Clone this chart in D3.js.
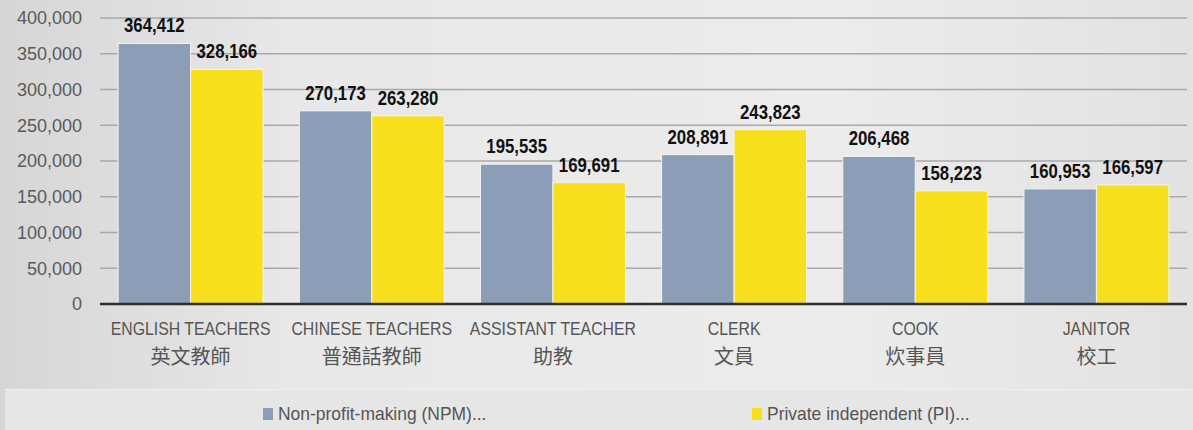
<!DOCTYPE html>
<html>
<head>
<meta charset="utf-8">
<script src="https://cdn.jsdelivr.net/npm/d3@7"></script>
<style>
  body { margin: 0; background: #e2e2e2; }
  svg { display: block; }
</style>
</head>
<body>
<div id="chart"></div>
<script>
// Data
// ---------------------------------------------------------
const categories = ["ENGLISH TEACHERS", "CHINESE TEACHERS", "ASSISTANT TEACHER", "CLERK", "COOK", "JANITOR"];
const categoriesZh = ["英文教師", "普通話教師", "助教", "文員", "炊事員", "校工"];
const npmValues = [364412, 270173, 195535, 208891, 206468, 160953];
const piValues = [328166, 263280, 169691, 243823, 158223, 166597];
const seriesNames = ["Non-profit-making (NPM)...", "Private independent (PI)..."];
const yTicks = [0, 50000, 100000, 150000, 200000, 250000, 300000, 350000, 400000];

let width = 1193,
    height = 430,
    plotLeft = 100,
    plotRight = 1187,
    plotTop = 18,
    plotBottom = 304;

const colors = ["#8b9db7", "#f7df1e"];
const sansFont = "'Liberation Sans', Arial, sans-serif";

let svg = d3.select("#chart").append("svg")
    .attr("width", width)
    .attr("height", height);

// Background
// ---------------------------------------------------------
let defs = svg.append("defs");
let grad = defs.append("linearGradient").attr("id", "bg").attr("x1", 0).attr("x2", 1);
grad.append("stop").attr("offset", "0%").attr("stop-color", "#d6d6d6");
grad.append("stop").attr("offset", "25%").attr("stop-color", "#e8e8e8");
grad.append("stop").attr("offset", "70%").attr("stop-color", "#ececec");
grad.append("stop").attr("offset", "100%").attr("stop-color", "#e2e2e2");

svg.append("rect")
    .attr("width", width).attr("height", height)
    .attr("fill", "url(#bg)");

svg.append("rect")
    .attr("x", 5).attr("y", 389)
    .attr("width", width - 5).attr("height", height - 389)
    .attr("fill", "#e6e6e6");
svg.append("line")
    .attr("x1", 5).attr("x2", width).attr("y1", 389.5).attr("y2", 389.5)
    .attr("stroke", "#f0f0f0");

// Scales
// ---------------------------------------------------------
let x = d3.scaleBand()
    .domain(categories)
    .range([plotLeft, plotRight])
    .paddingInner(0.2)
    .paddingOuter(0.1);

let xSeries = d3.scaleBand()
    .domain([0, 1])
    .range([0, x.bandwidth()]);

let y = d3.scaleLinear()
    .domain([0, 400000])
    .range([plotBottom, plotTop]);

// Grid and y axis
// ---------------------------------------------------------
svg.append("g").selectAll("line")
    .data(yTicks.filter(d => d > 0))
    .join("line")
        .attr("x1", plotLeft)
        .attr("x2", plotRight)
        .attr("y1", d => y(d))
        .attr("y2", d => y(d))
        .attr("stroke", "#a9a9a9")
        .attr("stroke-width", 1.5);

let yAxis = svg.append("g")
    .attr("transform", `translate(${plotLeft - 18},0)`)
    .call(d3.axisLeft(y).tickValues(yTicks).tickSize(0).tickPadding(0).tickFormat(d3.format(",")));
yAxis.select(".domain").remove();
yAxis.selectAll("text")
    .attr("fill", "#5a5a5a")
    .style("font-family", sansFont)
    .style("font-size", "18px");

// Bars
// ---------------------------------------------------------
let rows = categories.map((c, i) => ({ cat: c, vals: [npmValues[i], piValues[i]] }));

let groups = svg.append("g").selectAll("g")
    .data(rows)
    .join("g")
        .attr("transform", d => `translate(${x(d.cat)},0)`);

groups.selectAll("rect")
    .data(d => d.vals.map((v, k) => ({ v, k })))
    .join("rect")
        .attr("x", d => xSeries(d.k))
        .attr("y", d => y(d.v))
        .attr("width", xSeries.bandwidth())
        .attr("height", d => y(0) - y(d.v))
        .attr("fill", d => colors[d.k])
        .attr("stroke", "#f4f4f4")
        .attr("stroke-width", 1);

// value labels, squeezed horizontally to look like a narrow bold face
groups.selectAll("text.val")
    .data(d => d.vals.map((v, k) => ({ v, k })))
    .join("text")
        .attr("class", "val")
        .attr("transform", d => `translate(${xSeries(d.k) + xSeries.bandwidth() / 2},${y(d.v) - 11}) scale(0.84,1)`)
        .attr("text-anchor", "middle")
        .attr("fill", "#111")
        .style("font-family", sansFont)
        .style("font-weight", "bold")
        .style("font-size", "20px")
        .text(d => d3.format(",")(d.v));

// Baseline
svg.append("line")
    .attr("x1", plotLeft).attr("x2", plotRight)
    .attr("y1", y(0)).attr("y2", y(0))
    .attr("stroke", "#2e2e2e")
    .attr("stroke-width", 2.5);

// Category labels
// ---------------------------------------------------------
let labels = svg.append("g").selectAll("g")
    .data(categories)
    .join("g")
        .attr("transform", d => `translate(${x(d) + x.bandwidth() / 2},0)`);

labels.append("text")
    .attr("transform", "translate(0,335) scale(0.88,1)")
    .attr("text-anchor", "middle")
    .attr("fill", "#555")
    .style("font-family", sansFont)
    .style("font-size", "18px")
    .text(d => d);

labels.append("text")
    .attr("y", 364)
    .attr("text-anchor", "middle")
    .attr("fill", "#555")
    .style("font-family", "'Noto Sans CJK TC', sans-serif")
    .style("font-size", "20px")
    .text((d, i) => categoriesZh[i]);

// Legend
// ---------------------------------------------------------
const legendX = [263, 752];
let legend = svg.append("g").selectAll("g")
    .data(seriesNames)
    .join("g")
        .attr("transform", (d, i) => `translate(${legendX[i]},408)`);

legend.append("rect")
    .attr("width", 10).attr("height", 12)
    .attr("fill", (d, i) => colors[i]);

legend.append("text")
    .attr("transform", "translate(15,12) scale(0.97,1)")
    .attr("fill", "#555")
    .style("font-family", sansFont)
    .style("font-size", "18px")
    .text(d => d);
</script>
</body>
</html>
